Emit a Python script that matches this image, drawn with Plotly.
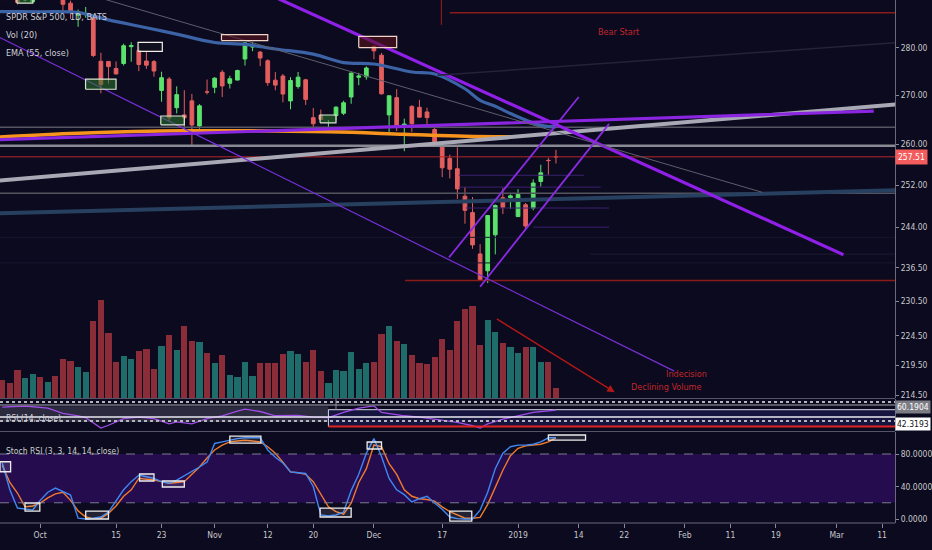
import numpy as np
import pandas as pd
import plotly.graph_objects as go

FONT = "Liberation Sans Narrow, DejaVu Sans Condensed, Noto Sans Condensed, Arial Narrow, Liberation Sans, sans-serif"
BG = "#0b0a1e"

# ---------------- calendar (trading days; past holidays skipped) ----------------
holidays = ["2018-11-22", "2018-12-05", "2018-12-25", "2019-01-01"]
calendar = [d.strftime("%Y-%m-%d") for d in pd.bdate_range("2018-09-24", "2019-03-22")
            if d.strftime("%Y-%m-%d") not in holidays]
origin = calendar.index("2018-10-01")


def bar(date):
    return calendar.index(date) - origin


# ---------------- price data (SPY daily, 2018-09-24 .. 2019-01-09) ----------------
opens = [291.34, 291.53, 290.91, 290.41, 289.99,
         292.11, 291.56, 292.74, 291.18, 289.69, 287.05, 287.39, 286.84, 277.08, 277.04,
         275.55, 276.60, 280.20, 279.40, 277.13, 277.00, 270.95, 273.33, 267.38, 265.92,
         268.80, 263.67, 270.65,
         271.60, 274.75, 272.44, 273.11, 277.56, 280.11, 279.03, 277.19, 273.09, 273.97,
         268.78, 271.79, 273.17, 265.36, 265.86, 263.19, 265.77, 266.26, 269.60, 273.70, 273.81,
         280.28, 278.37, 265.92, 269.46, 263.37, 267.66, 267.47, 266.52, 262.96, 259.40,
         257.20, 255.17, 249.86, 246.74, 239.04, 235.97, 242.57, 249.58, 249.56,
         245.98, 248.23, 247.59, 252.69, 256.82, 257.56]
highs = [291.50, 291.65, 292.24, 291.91, 291.28,
         292.93, 292.36, 293.21, 291.24, 290.27, 288.28, 288.86, 286.91, 278.90, 277.09,
         277.04, 280.83, 281.15, 280.07, 279.30, 277.36, 274.87, 273.76, 271.81, 271.00,
         270.25, 268.12, 273.23,
         273.73, 275.23, 274.01, 275.30, 281.10, 281.22, 279.28, 277.51, 274.80, 274.39,
         273.72, 274.82, 273.38, 267.35, 267.02, 264.87, 267.69, 268.82, 274.70, 274.64, 276.00,
         280.40, 278.85, 269.97, 271.22, 265.16, 267.90, 269.00, 267.40, 264.03, 260.65,
         257.95, 259.40, 251.62, 249.71, 240.84, 246.18, 248.29, 251.40, 250.19,
         251.21, 248.57, 253.11, 255.95, 257.31, 258.91]
lows = [290.37, 290.48, 289.41, 290.10, 289.95,
        290.98, 291.14, 291.32, 287.66, 286.22, 284.50, 286.48, 277.96, 270.36, 272.37,
        274.30, 276.19, 276.98, 274.97, 275.47, 273.82, 268.61, 264.70, 266.23, 262.29,
        259.85, 263.12, 270.12,
        270.38, 269.59, 271.35, 273.09, 276.16, 279.22, 276.03, 271.90, 270.98, 268.50,
        267.07, 271.33, 267.96, 263.05, 264.84, 263.12, 264.83, 265.88, 268.20, 272.04, 273.21,
        277.51, 270.10, 262.44, 262.63, 258.62, 262.48, 265.37, 263.90, 259.85, 253.53,
        253.28, 249.35, 244.65, 239.98, 234.27, 233.76, 238.96, 246.45, 247.47,
        245.95, 243.67, 247.17, 251.69, 254.00, 256.19]
closes = [291.02, 290.75, 289.88, 290.69, 290.72,
          291.73, 291.56, 291.72, 289.44, 287.82, 287.82, 287.40, 278.30, 272.17, 275.95,
          274.40, 280.40, 280.45, 276.40, 276.25, 275.01, 273.61, 265.32, 270.08, 265.33,
          263.86, 267.77, 270.63,
          273.51, 271.89, 273.39, 275.12, 281.01, 280.50, 277.76, 272.57, 272.06, 270.20,
          273.02, 273.73, 269.10, 264.12, 265.02, 263.25, 267.50, 268.40, 274.58, 273.98, 275.65,
          279.30, 270.25, 269.84, 263.57, 264.07, 264.13, 265.46, 265.37, 260.47, 255.36,
          255.08, 251.26, 247.17, 240.70, 234.34, 246.18, 248.07, 247.75, 249.92,
          250.18, 244.21, 252.39, 254.38, 256.77, 257.51]
# volume, millions of shares
volumes = [51, 42, 78, 56, 68,
           60, 45, 62, 109, 104, 86, 72, 215, 274, 183, 101, 118, 110, 132, 138, 80, 145, 177,
           135, 201, 159, 156, 127,
           98, 121, 65, 59, 101, 62, 98, 98, 98, 124, 133, 124, 101, 135, 75, 42, 78, 75, 128,
           80, 98,
           101, 179, 202, 159, 150, 121, 98, 94, 116, 165, 134, 215, 250, 257, 148, 218, 186,
           153, 142,
           127, 142, 142, 101, 101, 27]

dates = calendar[:len(closes)]
bars = [bar(d) for d in dates]

# EMA (55, close) and orange average, read at sampled bars
ema_bars = [-6, 0, 5, 9, 14, 18, 23, 27, 31, 36, 40, 44, 49, 52, 56, 58, 60, 62, 66, 68]
ema_vals = [287.8, 287.8, 287.6, 286.0, 284.3, 282.9, 281.1, 280.7, 279.7, 278.6, 276.8,
            276.5, 274.8, 274.4, 271.3, 268.9, 267.7, 266.2, 263.8, 263.5]
orange_bars = [-6, 5, 19, 38, 48, 56, 62]
orange_vals = [261.4, 262.2, 262.7, 262.5, 262.0, 261.6, 261.5]

# RSI (14, close), read at sampled bars
rsi_bars = [-5, -2, 1, 3, 5, 6, 8, 9, 11, 13, 15, 17, 18, 20, 22, 24, 26, 27, 29, 31, 34,
            36, 38, 40, 42, 44, 45, 48, 50, 52, 55, 57, 58, 59, 61, 63, 65, 68]
rsi_vals = [59, 61.6, 57, 46, 41, 37, 15, 21, 35, 38, 35, 24, 28, 24, 35, 41, 51, 55, 50,
            41, 42, 38, 37, 48, 57, 61.6, 48, 41, 38, 34, 27, 20, 15, 24, 34, 41, 48, 53]

# Stoch RSI %K / %D per bar (-5 .. 68)
stoch_k = [69, 36, 13.5, 12, 11, 23, 33, 38, 34, 29.5, 1, 0, 1, 2.5, 8.6, 22, 36, 46, 54, 52,
           50, 46, 44, 48, 53, 58, 64, 70, 93, 95, 97, 99, 100, 100, 100, 85, 76, 69, 58, 57,
           56, 40, 5, 3.7, 5, 8.6, 35, 55, 81, 99, 77, 50, 36, 30, 21, 25, 28, 19.7, 12, 2.5,
           0.5, 0, 0, 11, 33, 62, 81, 89, 91, 91, 92, 95, 100, 100]
stoch_d = [66, 45, 32, 15, 16, 19.5, 26, 31, 33, 23, 10, 2.5, 0.5, 1, 7, 16, 28, 36, 50, 49,
           48, 46, 44, 45, 46, 55, 64, 75, 85, 91, 95, 96, 97, 96, 95, 89, 81, 70, 58, 57, 55,
           46, 30, 15, 9, 6, 19.5, 45, 62, 91, 89, 68, 55, 36, 28, 25, 24, 22, 15, 9, 5, 1, 1,
           2, 18, 40, 60, 78, 87, 90, 91, 92, 95, 100]

# Drawn trend lines: (bar0, price0, bar1, price1, colour, width)
trend_lines = [
    (-6, 252.8, 113, 268.1, "#a9a9b5", 4.0),       # silver rising line
    (-6, 246.6, 113, 251.0, "#27405f", 4.0),       # blue-grey rising line
    (-6, 260.9, 109.9, 266.7, "#8a25e0", 3.2),     # purple near-flat line
    (28, 293.3, 105.9, 238.9, "#9020e8", 3.2),     # purple falling line
    (-6, 282.7, 83.6, 218.5, "#7a2fd8", 1.2),      # thin purple falling line
    (7, 291.3, 95.2, 250.6, "#5e5e6c", 1.0),       # thin grey falling line
    (52.4, 274.1, 113, 281.1, "#262238", 1.5),     # faint rising line
    (53.9, 238.4, 71.0, 269.6, "#8a2be2", 1.8),    # rising channel, upper
    (58.0, 233.1, 75.0, 264.1, "#8a2be2", 1.8),    # rising channel, lower
]
# Horizontal lines: (price, bar0, bar1, colour, width)
h_lines = [
    (242.1, -6, 113, "#16162e", 1.0),
    (237.4, -6, 113, "#16162e", 1.0),
    (239.0, 72.5, 113, "#1c1c36", 1.0),
    (263.4, -6, 113, "#565662", 1.5),
    (259.7, -6, 113, "#8a8a94", 2.5),
    (250.4, -6, 113, "#54545f", 1.5),
    (234.2, 48.1, 113, "#8b1a1a", 1.5),
    (287.6, 54.0, 113, "#8b1a1a", 1.5),
    (253.9, 55.2, 71.7, "#3b2270", 1.0),
    (251.6, 55.2, 73.9, "#3b2270", 1.0),
    (247.6, 56.1, 75.0, "#3b2270", 1.0),
    (244.0, 65.0, 75.0, "#3b2270", 1.0),
]
last_price = 257.51
# Highlight boxes: (bar0, bar1, price_low, price_high, kind)
price_boxes = [
    (-3.07, -0.97, 289.7, 291.6, "green"),
    (5.98, 10.0, 271.2, 273.3, "green"),
    (12.9, 16.1, 279.2, 281.1, "dark"),
    (23.9, 30.0, 281.5, 282.8, "red"),
    (15.9, 19.0, 263.9, 265.7, "green"),
    (36.9, 39.0, 264.3, 265.9, "green"),
    (42.0, 47.0, 280.0, 282.4, "red"),
]
stoch_boxes = [
    (-5.3, -3.9, 58.2, 70.5), (-2.0, -0.05, 9.8, 19.7), (6.0, 9.0, 0, 9.8),
    (13.1, 15.0, 46.8, 55.4), (16.1, 19.0, 39.4, 46.8), (25.0, 29.1, 93.5, 102),
    (36.9, 41.0, 2.5, 13.5), (43.1, 45.0, 86.2, 94.8), (54.0, 56.9, -2.5, 9.8),
    (67.0, 71.9, 97.2, 103.4),
]

tick_dates = ["2018-10-01", "2018-10-15", "2018-10-23", "2018-11-01", "2018-11-12",
              "2018-11-20", "2018-12-03", "2018-12-17", "2019-01-02", "2019-01-14",
              "2019-01-22", "2019-02-01", "2019-02-11", "2019-02-19", "2019-03-01",
              "2019-03-11"]
tick_text = ["Oct", "15", "23", "Nov", "12", "20", "Dec", "17", "2019", "14", "22", "Feb",
             "11", "19", "Mar", "11"]
price_ticks = [280, 270, 260, 252, 244, 236.5, 230.5, 224.5, 219.5, 214.5]
price_top, price_bottom = 290.4, 214.05
x_first, x_last = -5.3, 112.7

# ---------------- figure ----------------
fig = go.Figure()
UP, DOWN = "#5ae36c", "#e35e5e"
VOL_UP, VOL_DOWN = "#1f6d6b", "#8a2d39"

vol_colors = [VOL_UP if c >= o else VOL_DOWN for o, c in zip(opens, closes)]
fig.add_trace(go.Bar(x=bars, y=volumes, marker=dict(color=vol_colors, line=dict(width=0)),
                     width=0.82, xaxis="x", yaxis="y"))

PY = "y2"


def line(xs, ys, color, width, dash="solid", shape="linear"):
    fig.add_trace(go.Scatter(x=xs, y=ys, mode="lines", xaxis="x", yaxis=PY,
                             line=dict(color=color, width=width, dash=dash, shape=shape)))


for p, b0, b1, c, w in h_lines:
    line([b0, b1], [p, p], c, w)
line([x_first - 1, x_last + 1], [last_price, last_price], "#b8282c", 1.0)

line(orange_bars, orange_vals, "#f7941d", 3.5, shape="spline")
line(ema_bars, ema_vals, "#3c63a6", 3.2, shape="spline")

for b0, p0, b1, p1, c, w in trend_lines[:3]:
    line([b0, b1], [p0, p1], c, w)

fig.add_trace(go.Candlestick(
    x=bars, open=opens, high=highs, low=lows, close=closes, xaxis="x", yaxis=PY,
    whiskerwidth=0,
    increasing=dict(line=dict(color=UP, width=1), fillcolor=UP),
    decreasing=dict(line=dict(color=DOWN, width=1), fillcolor=DOWN)))

for b0, p0, b1, p1, c, w in trend_lines[3:]:
    line([b0, b1], [p0, p1], c, w)
# vertical marker at the bear start
line([52.9, 52.9], [291.5, 284.9], "#8b1a1a", 1.2)

box_style = {
    "green": ("rgba(45,120,45,0.55)", "#d9e6cf"),
    "dark": ("rgba(20,20,30,0.6)", "#f2efe8"),
    "red": ("rgba(90,20,30,0.6)", "#f0d4c6"),
}
for b0, b1, lo, hi, kind in price_boxes:
    fc, lc = box_style[kind]
    fig.add_trace(go.Scatter(x=[b0, b1, b1, b0, b0], y=[lo, lo, hi, hi, lo], mode="lines",
                             fill="toself", fillcolor=fc, line=dict(color=lc, width=1.2),
                             xaxis="x", yaxis=PY))

# RSI pane
fig.add_trace(go.Scatter(x=rsi_bars, y=rsi_vals, mode="lines", xaxis="x", yaxis="y3",
                         line=dict(color="#a04ee6", width=1.3)))

# Stoch RSI pane
stoch_bars = bars
fig.add_trace(go.Scatter(x=stoch_bars, y=stoch_d, mode="lines", xaxis="x", yaxis="y4",
                         line=dict(color="#f07a2c", width=1.4)))
fig.add_trace(go.Scatter(x=stoch_bars, y=stoch_k, mode="lines", xaxis="x", yaxis="y4",
                         line=dict(color="#3f88f2", width=1.4)))

shapes = []
# stoch band and bands
shapes.append(dict(type="rect", xref="paper", yref="y4", x0=0, x1=1, y0=20, y1=80,
                   fillcolor="#250c4f", line=dict(width=0), layer="below"))
for v in (80, 20):
    shapes.append(dict(type="line", xref="paper", yref="y4", x0=0, x1=1, y0=v, y1=v,
                       line=dict(color="#7c7c94", width=1, dash="dash")))
for b0, b1, v0, v1 in stoch_boxes:
    shapes.append(dict(type="rect", xref="x", yref="y4", x0=b0, x1=b1, y0=v0, y1=v1,
                       fillcolor="rgba(255,255,255,0.10)", line=dict(color="#ececec", width=1.3)))

# RSI pane drawings
shapes += [
    dict(type="rect", xref="x", yref="y3", x0=-6, x1=38, y0=28, y1=61.2,
         fillcolor="rgba(120,120,140,0.30)", line=dict(width=0), layer="below"),
    dict(type="rect", xref="x", yref="y3", x0=38, x1=113, y0=18.4, y1=53.8,
         fillcolor="#16153f", line=dict(color="#d8d8e8", width=1), layer="below"),
    dict(type="line", xref="x", yref="y3", x0=38, x1=113, y0=18.4, y1=18.4,
         line=dict(color="#e02424", width=2.2)),
    dict(type="line", xref="paper", yref="y3", x0=0, x1=1, y0=38.4, y1=38.4,
         line=dict(color="#e8e8f2", width=1.4)),
    dict(type="line", xref="paper", yref="y3", x0=0, x1=1, y0=70, y1=70,
         line=dict(color="#b4b4bc", width=2, dash="dot")),
    dict(type="line", xref="paper", yref="y3", x0=0, x1=1, y0=63.7, y1=63.7,
         line=dict(color="#74747e", width=1.4)),
    dict(type="line", xref="paper", yref="y3", x0=0, x1=1, y0=30, y1=30,
         line=dict(color="#b4b4bc", width=2, dash="dot")),
    dict(type="line", xref="x", yref="y3", x0=39, x1=39, y0=53.8, y1=76,
         line=dict(color="#8a8a94", width=1)),
]

# pane separators
H = 523.0
for ypx, c in ((398.5, "#55556a"), (431.5, "#55556a"), (523, "#6a6a7a")):
    shapes.append(dict(type="line", xref="paper", yref="paper", x0=0, x1=1,
                       y0=(H - ypx) / H, y1=(H - ypx) / H, line=dict(color=c, width=1.2)))

annotations = []


def txt(text, x, y, color="#cfcfd4", size=9, xanchor="left", **kw):
    annotations.append(dict(text=text, x=x, y=y, xref="paper", yref="paper", showarrow=False,
                            xanchor=xanchor, yanchor="middle",
                            font=dict(family=FONT, size=size, color=color), **kw))


def py(ypx):
    return (H - ypx) / H


txt("SPDR S&P 500, 1D, BATS", 0.004, py(16.7))
txt("Vol (20)", 0.004, py(35))
txt("EMA (55, close)", 0.004, py(52.5))
txt("RSI (14, close)", 0.004, py(418), size=8.5)
txt("Stoch RSI (3, 3, 14, 14, close)", 0.004, py(451), size=8.5)
txt("Bear Start", 622 / 900, py(32), color="#c4262c", xanchor="center")
txt("Indecision", 690 / 900, py(374), color="#c4262c", xanchor="center")
txt("Declining Volume", 670 / 900, py(387), color="#c4262c", xanchor="center")

# red arrow (declining volume)
annotations.append(dict(x=75.75, y=np.log10(215.0), ax=60.0, ay=np.log10(227.6),
                        xref="x", yref=PY, axref="x", ayref=PY, text="", showarrow=True,
                        arrowhead=2, arrowsize=1, arrowwidth=1.5, arrowcolor="#b01818"))

# axis value labels
lab_font = 8.5
annotations.append(dict(text="257.51", x=1.0, y=np.log10(last_price), xref="paper", yref=PY,
                        showarrow=False, xanchor="left", yanchor="middle", bgcolor="#f25c5c",
                        borderpad=2, font=dict(family=FONT, size=lab_font, color="#ffffff")))
annotations.append(dict(text="60.1904", x=1.0, y=60.3, xref="paper", yref="y3",
                        showarrow=False, xanchor="left", yanchor="middle", bgcolor="#7c7c84",
                        borderpad=1, font=dict(family=FONT, size=lab_font, color="#ffffff")))
annotations.append(dict(text="42.3193", x=1.0, y=24.7, xref="paper", yref="y3",
                        showarrow=False, xanchor="left", yanchor="middle", bgcolor="#ffffff",
                        borderpad=1, font=dict(family=FONT, size=lab_font, color="#111111")))

axis_font = dict(family=FONT, size=8.5, color="#c8c8cc")
fig.update_layout(
    width=932, height=550, margin=dict(l=0, r=32, t=0, b=27),
    paper_bgcolor=BG, plot_bgcolor=BG, showlegend=False, hovermode=False,
    shapes=shapes, annotations=annotations, bargap=0,
    xaxis=dict(anchor="y4", range=[x_first, x_last], tickvals=[bar(d) for d in tick_dates],
               ticktext=tick_text, ticks="outside", ticklen=4, tickcolor="#8a8a96",
               tickfont=axis_font, showgrid=False, zeroline=False, showline=False,
               rangeslider=dict(visible=False)),
    yaxis=dict(domain=[py(398), 1], range=[0, 1115], visible=False, fixedrange=True),
    yaxis2=dict(overlaying="y", side="right", type="log", anchor="x",
                range=[np.log10(price_bottom), np.log10(price_top)],
                tickvals=price_ticks, ticktext=[f"{v:.2f}" for v in price_ticks],
                ticks="outside", ticklen=3, tickcolor="#8a8a96", tickfont=axis_font,
                showgrid=False, zeroline=False, showline=True, linecolor="#6a6a7a",
                linewidth=1),
    yaxis3=dict(domain=[py(431), py(399)], range=[8.95, 76.3], side="right", anchor="x",
                showticklabels=False, ticks="", showgrid=False, zeroline=False,
                showline=True, linecolor="#6a6a7a", linewidth=1),
    yaxis4=dict(domain=[0, py(432)], range=[-4.9, 107.1], side="right", anchor="x",
                tickvals=[0, 40, 80], ticktext=["0.0000", "40.0000", "80.0000"],
                ticks="outside", ticklen=3, tickcolor="#8a8a96", tickfont=axis_font,
                showgrid=False, zeroline=False, showline=True, linecolor="#6a6a7a",
                linewidth=1),
)

fig.write_html("out.html", config={"displayModeBar": False},
               post_script="document.body.style.margin='0';document.body.style.overflow='hidden';")
